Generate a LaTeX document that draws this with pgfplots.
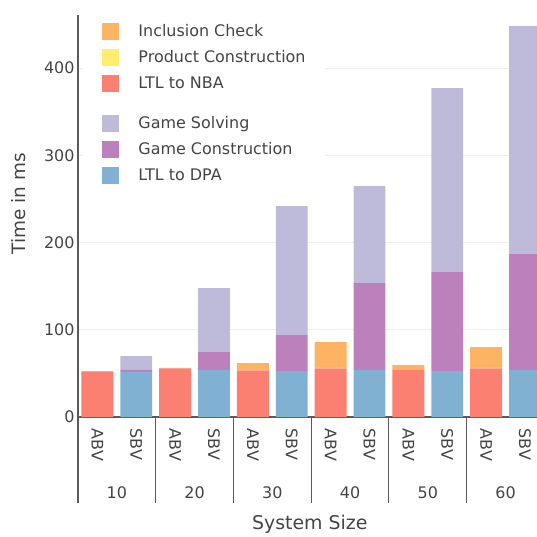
\documentclass[border=0pt]{standalone}
\usepackage{fontspec}
\setmainfont{DejaVu Sans}
\usepackage{pgfplots}
\usepackage{pgfplotstable}
\pgfplotsset{compat=1.18}
\definecolor{cNBA}{HTML}{FB8072}
\definecolor{cProd}{HTML}{FFED6F}
\definecolor{cIncl}{HTML}{FDB462}
\definecolor{cDPA}{HTML}{80B1D3}
\definecolor{cGCon}{HTML}{BC80BD}
\definecolor{cGSol}{HTML}{BEBADA}
\definecolor{txt}{HTML}{444444}
\definecolor{axc}{HTML}{5A5A5A}
\definecolor{gridc}{HTML}{EEEEEE}

\pgfplotstableread{
x NBA Prod Incl DPA GCon GSol
0 52.2 0.3 0.2 0 0 0
1 0 0 0 51.6 2.3 16.0
2 55.7 0.3 0.2 0 0 0
3 0 0 0 53.9 20.6 73.4
4 53.6 0.3 8.0 0 0 0
5 0 0 0 52.7 41.3 147.8
6 55.9 0.3 29.8 0 0 0
7 0 0 0 53.9 99.7 111.2
8 54.7 0.3 4.6 0 0 0
9 0 0 0 52.7 113.5 210.8
10 55.9 0.3 24.0 0 0 0
11 0 0 0 53.9 132.9 261.3
}\data

\begin{document}
\begin{tikzpicture}
\begin{axis}[name=ax, scale only axis, width=459bp, height=402bp,
  xmin=-0.5, xmax=11.31, ymin=0, ymax=461,
  ybar stacked, bar width=0.82,
  axis lines*=left,
  axis line style={draw=axc, line width=1.1bp},
  ytick={0,100,...,400},
  ymajorgrids, major grid style={draw=gridc, line width=1bp},
  xtick={0,...,11},
  xticklabels={ABV,SBV,ABV,SBV,ABV,SBV,ABV,SBV,ABV,SBV,ABV,SBV},
  major tick length=0pt,
  minor xtick={-0.5,1.5,...,9.5},
  minor tick length=86bp, tick align=outside,
  minor x tick style={draw=axc, line width=1.1bp},
  /pgf/number format/assume math mode=true,
  tick label style={font=\fontsize{16}{16}\selectfont, text=txt},
  xticklabel style={rotate=-90, anchor=west, inner xsep=11.5bp},
  extra x ticks={0.5,2.5,4.5,6.5,8.5,10.5},
  extra x tick labels={10,20,30,40,50,60},
  extra x tick style={every x tick label/.style={anchor=center, yshift=-76bp}, major tick length=0pt},
  ylabel={Time in ms},
  ylabel style={at={(axis description cs:-0.1285,0.53)}, anchor=center, font=\fontsize{18.5}{18.5}\selectfont, text=txt},
  xlabel={System Size},
  xlabel style={at={(axis description cs:0.505,-0.266)}, anchor=center, font=\fontsize{19}{19}\selectfont, text=txt},
  legend style={at={(axis description cs:0.0102,0.999)}, anchor=north west,
    fill=white, draw=none, inner xsep=19bp, inner ysep=7bp,
    row sep=5.7bp, column sep=19.6bp,
    cells={anchor=base west},
    nodes={inner sep=0pt, font=\fontsize{16}{16}\selectfont, text=txt}},
  legend image code/.code={\fill[#1] (0bp,-2.7bp) rectangle (17bp,14.3bp); \path[draw=none, fill=none] (0bp,-6bp) -- (0bp,14.3bp);},
]
\addplot[fill=cNBA, draw=none, forget plot] table[x=x, y=NBA] {\data};
\addplot[fill=cProd, draw=none, forget plot] table[x=x, y=Prod] {\data};
\addplot[fill=cIncl, draw=none, forget plot] table[x=x, y=Incl] {\data};
\addplot[fill=cDPA, draw=none, forget plot] table[x=x, y=DPA] {\data};
\addplot[fill=cGCon, draw=none, forget plot] table[x=x, y=GCon] {\data};
\addplot[fill=cGSol, draw=none, forget plot] table[x=x, y=GSol] {\data};
\addlegendimage{fill=cIncl, draw=none}
\addlegendentry{Inclusion Check}
\addlegendimage{fill=cProd, draw=none}
\addlegendentry{Product Construction}
\addlegendimage{draw=none, legend image code/.code={\fill[cNBA, draw=none] (0bp,-2.7bp) rectangle (17bp,14.3bp); \path[draw=none, fill=none] (0bp,-20bp) -- (0bp,14.3bp);}}
\addlegendentry{LTL to NBA}
\addlegendimage{fill=cGSol, draw=none}
\addlegendentry{Game Solving}
\addlegendimage{fill=cGCon, draw=none}
\addlegendentry{Game Construction}
\addlegendimage{fill=cDPA, draw=none}
\addlegendentry{LTL to DPA}
\end{axis}
\pgfresetboundingbox
\path[use as bounding box] ([shift={(-78bp,-120bp)}]ax.south west) rectangle ([shift={(0bp,15bp)}]ax.north east);
\end{tikzpicture}
\end{document}
